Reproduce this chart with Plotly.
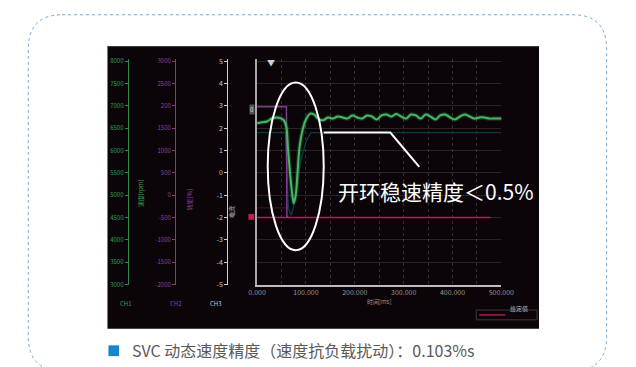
import plotly.graph_objects as go

W, H = 636, 367

# ---- data ---------------------------------------------------------------
# speed feedback (green), time in ms
green_t = [0, 10, 20, 30, 40, 50, 55, 60, 63, 67, 71, 75, 79, 83, 87, 93, 100, 109, 117, 125,
           135, 145, 155, 165, 175, 185, 195, 205, 215, 225, 235, 245, 255, 265, 275, 285,
           295, 305, 315, 325, 335, 345, 355, 365, 375, 385, 395, 405, 415, 425, 435, 445,
           455, 465, 475, 485, 495, 504]
green_v = [2.22, 2.26, 2.30, 2.43, 2.48, 2.43, 2.35, 2.04, 1.17, 0.09, -0.78, -1.35, -1.00, 0.09,
           1.17, 1.91, 2.39, 2.65, 2.61, 2.43, 2.35, 2.48, 2.43, 2.52, 2.48, 2.43, 2.57, 2.48,
           2.43, 2.57, 2.52, 2.39, 2.57, 2.61, 2.52, 2.63, 2.52, 2.43, 2.61, 2.57, 2.43, 2.61,
           2.52, 2.39, 2.57, 2.61, 2.48, 2.39, 2.52, 2.61, 2.52, 2.43, 2.48, 2.48, 2.43, 2.43,
           2.43, 2.43]

# load step (purple)
purple_t = [0, 60, 61, 64]
purple_v = [2.96, 2.96, -1.96, -1.96]

# current reference (dark teal)
teal_t = [0, 58, 61, 64, 70, 78, 88, 100, 110, 504]
teal_v = [1.80, 1.80, 0.20, -1.60, -1.90, -1.20, 0.40, 1.40, 1.80, 1.80]

# trigger level (red)
red_t = [0, 478]
red_v = [-2.0, -2.0]
red2_t = [0, 64]
red2_v = [-1.57, -1.57]

x_ticks = [0, 50, 100, 150, 200, 250, 300, 350, 400, 450, 500]
x_labels = ["0.000", "", "100.000", "", "200.000", "", "300.000", "", "400.000", "", "500.000"]
y_ticks = [5, 4, 3, 2, 1, 0, -1, -2, -3, -4, -5]
white_labels = ["5", "4", "3", "2", "1", "0", "-1", "-2", "-3", "-4", "-5"]
purple_labels = ["3000", "2500", "200", "1500", "1000", "500", "0", "-500", "-1000", "-1500", "-2000"]
green_labels = ["8000", "7500", "7000", "6500", "6000", "5500", "5000", "4500", "4000", "3500", "3000"]

callout_text = "开环稳速精度＜0.5%"
caption_text = "SVC 动态速度精度（速度抗负载扰动）：0.103%s"


def px(x):
    return x / W


def py(y):
    return 1 - y / H


FONT = "Noto Sans CJK SC"

fig = go.Figure()

fig.add_trace(go.Scatter(x=teal_t, y=teal_v, mode="lines",
                         line=dict(color="#0b3842", width=1.4), hoverinfo="skip"))
fig.add_trace(go.Scatter(x=red2_t, y=red2_v, mode="lines",
                         line=dict(color="rgba(150,30,60,0.45)", width=1), hoverinfo="skip"))
fig.add_trace(go.Scatter(x=red_t, y=red_v, mode="lines",
                         line=dict(color="#b8195a", width=1.5), hoverinfo="skip"))
fig.add_trace(go.Scatter(x=purple_t, y=purple_v, mode="lines",
                         line=dict(color="#7f3a92", width=1.5), hoverinfo="skip"))
# soft glow under the speed trace
fig.add_trace(go.Scatter(x=green_t, y=green_v, mode="lines",
                         line=dict(color="rgba(60,175,90,0.25)", width=4.5, shape="spline"),
                         hoverinfo="skip"))
fig.add_trace(go.Scatter(x=green_t, y=green_v, mode="lines",
                         line=dict(color="#46b865", width=2, shape="spline"), hoverinfo="skip"))

# carriers for the extra scales on the left
for ax in ["y2", "y3", "y4"]:
    fig.add_trace(go.Scatter(x=[None], y=[None], yaxis=ax, mode="lines", hoverinfo="skip"))

ydom = [py(287), py(57)]

fig.update_layout(
    width=W, height=H,
    margin=dict(l=0, r=0, t=0, b=0),
    paper_bgcolor="white",
    plot_bgcolor="rgba(0,0,0,0)",
    showlegend=False,
    xaxis=dict(domain=[px(257), px(510)], range=[0, 500], tickvals=x_ticks, ticktext=x_labels,
               showline=True, linecolor="#bdbdbd", linewidth=1.5, ticks="",
               showgrid=True, gridcolor="rgba(130,130,130,0.35)", griddash="dot",
               zeroline=False, tickfont=dict(size=7, color="#9a9a9a", family=FONT),
               title=dict(text="时间[ms]", font=dict(size=6, color="#9a9a9a", family=FONT),
                          standoff=2)),
    yaxis=dict(domain=ydom, range=[-5, 5.1], tickvals=y_ticks, showticklabels=False,
               showline=True, linecolor="#a8a8a8", linewidth=1.5, ticks="",
               showgrid=True, gridcolor="rgba(120,120,120,0.28)", zeroline=False),
    yaxis2=dict(domain=ydom, range=[-5, 5.1], overlaying="y", anchor="free", position=px(226),
                tickvals=y_ticks, ticktext=white_labels, showline=True, linecolor="#cfcfcf",
                ticks="outside", ticklen=3, tickcolor="#cfcfcf", showgrid=False, zeroline=False,
                tickfont=dict(size=7, color="#c8c8c8", family=FONT)),
    yaxis3=dict(domain=ydom, range=[-5, 5.1], overlaying="y", anchor="free", position=px(172),
                tickvals=y_ticks, ticktext=purple_labels, showline=True, linecolor="#7b3d8d",
                ticks="outside", ticklen=3, tickcolor="#7b3d8d", showgrid=False, zeroline=False,
                tickfont=dict(size=6, color="#8a4a9c", family=FONT)),
    yaxis4=dict(domain=ydom, range=[-5, 5.1], overlaying="y", anchor="free", position=px(123),
                tickvals=y_ticks, ticktext=green_labels, showline=True, linecolor="#2f8a47",
                ticks="outside", ticklen=3, tickcolor="#2f8a47", showgrid=False, zeroline=False,
                tickfont=dict(size=6, color="#35a055", family=FONT)),
)

shapes = []

# dotted card outline
L, R, T, B, r = 20, 619, 12, 375, 35
card = (f"M {px(L + r)} {py(T)} L {px(R - r)} {py(T)} Q {px(R)} {py(T)} {px(R)} {py(T + r)} "
        f"L {px(R)} {py(B - r)} Q {px(R)} {py(B)} {px(R - r)} {py(B)} "
        f"L {px(L + r)} {py(B)} Q {px(L)} {py(B)} {px(L)} {py(B - r)} "
        f"L {px(L)} {py(T + r)} Q {px(L)} {py(T)} {px(L + r)} {py(T)} Z")
shapes.append(dict(type="path", path=card, xref="paper", yref="paper",
                   line=dict(color="#6fa8d8", width=1, dash="dot"), layer="below"))

# scope panel
shapes.append(dict(type="rect", xref="paper", yref="paper", x0=px(102), x1=px(549),
                   y0=py(332), y1=py(44), fillcolor="#0b0408", line=dict(width=0), layer="below"))
shapes.append(dict(type="line", xref="paper", yref="paper", x0=px(102), x1=px(549),
                   y0=py(44.5), y1=py(44.5), line=dict(color="#3a3a3a", width=1), layer="below"))

# trigger marker on the left of the plot
shapes.append(dict(type="rect", xref="paper", yref="paper", x0=px(248), x1=px(254),
                   y0=py(221), y1=py(215), fillcolor="#c81a5a", line=dict(width=0)))

# legend sample, bottom right
shapes.append(dict(type="rect", xref="paper", yref="paper", x0=px(484), x1=px(547),
                   y0=py(323), y1=py(313), line=dict(color="#3c3c3c", width=1)))
shapes.append(dict(type="line", xref="paper", yref="paper", x0=px(487), x1=px(514),
                   y0=py(318), y1=py(318), line=dict(color="#b01852", width=1.5)))

# ellipse around the dip and the callout leader
shapes.append(dict(type="circle", xref="paper", yref="paper", x0=px(268), x1=px(326),
                   y0=py(252), y1=py(81), line=dict(color="white", width=2)))
shapes.append(dict(type="path", xref="paper", yref="paper",
                   path=f"M {px(326)} {py(132)} L {px(395)} {py(132)} L {px(425)} {py(167)}",
                   line=dict(color="white", width=2)))

# caption bullet
shapes.append(dict(type="rect", xref="paper", yref="paper", x0=px(103), x1=px(114),
                   y0=py(360), y1=py(349), fillcolor="#1a84cf", line=dict(width=0)))

fig.update_layout(shapes=shapes)

ann = []
ann.append(dict(text="▼", x=px(271), y=py(53), xref="paper", yref="paper", showarrow=False,
                font=dict(size=8, color="#d0d0d0", family=FONT)))
ann.append(dict(text="0", x=px(252), y=py(103), xref="paper", yref="paper", showarrow=False,
                font=dict(size=6, color="#dddddd", family=FONT), bgcolor="#555555",
                borderpad=0))
for xx, color, lab in [(113, "#35a055", "CH1"), (165, "#8a4a9c", "CH2"), (214, "#c8c8c8", "CH3")]:
    ann.append(dict(text=lab, x=px(xx), y=py(313), xref="paper", yref="paper", showarrow=False,
                    font=dict(size=6, color=color, family=FONT)))
for xx, yy, color, lab in [(129, 194, "#35a055", "速度[rpm]"), (180, 200, "#8a4a9c", "转矩[%]"),
                           (231, 213, "#c8c8c8", "电流")]:
    ann.append(dict(text=lab, x=px(xx), y=py(yy), xref="paper", yref="paper", showarrow=False,
                    textangle=-90, font=dict(size=6, color=color, family=FONT)))
ann.append(dict(text="给定值", x=px(517), y=py(318), xref="paper", yref="paper", showarrow=False,
                xanchor="left", font=dict(size=6, color="#bbbbbb", family=FONT)))
ann.append(dict(text=callout_text, x=px(339), y=py(192), xref="paper", yref="paper",
                showarrow=False, xanchor="left", yanchor="middle",
                font=dict(size=21, color="white", family=FONT)))
ann.append(dict(text=caption_text, x=px(125), y=py(354), xref="paper", yref="paper",
                showarrow=False, xanchor="left", yanchor="middle",
                font=dict(size=16, color="#595959", family=FONT)))
fig.update_layout(annotations=ann)

fig.write_html("out.html")
